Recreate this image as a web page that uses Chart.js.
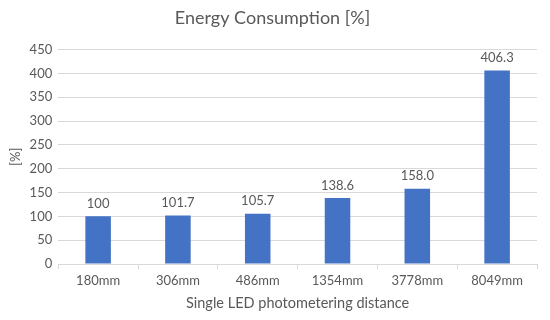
<!DOCTYPE html>
<html>
<head>
<meta charset="utf-8">
<script src="https://cdn.jsdelivr.net/npm/chart.js@4"></script>
<style>
  html, body { margin: 0; padding: 0; background: #fff; }
  #wrap { width: 550px; height: 320px; }
</style>
</head>
<body>
<div id="wrap"><canvas id="energy"></canvas></div>
<script>
var distances = ['180mm', '306mm', '486mm', '1354mm', '3778mm', '8049mm'];  // categories
var consumption = [100, 101.7, 105.7, 138.6, 158.0, 406.3];  // percent
var valueLabels = ['100', '101.7', '105.7', '138.6', '158.0', '406.3'];  // text above bars

var textColor = '#595959';
var gridColor = '#d9d9d9';
Chart.defaults.font.family = 'Lato, "Open Sans", sans-serif';

// draws the value over each bar
var barValues = {
    id: 'barValues',
    afterDatasetsDraw: function (chart) {
        var ctx = chart.ctx;
        var meta = chart.getDatasetMeta(0);
        ctx.save();
        ctx.fillStyle = textColor;
        ctx.font = '13px Lato, "Open Sans", sans-serif';
        ctx.textAlign = 'center';
        ctx.textBaseline = 'bottom';
        meta.data.forEach(function (bar, i) {
            ctx.fillText(valueLabels[i], bar.x, bar.y - 6);
        });
        ctx.restore();
    }
};

var ctx = document.getElementById('energy').getContext('2d');
var energyChart = new Chart(ctx, {
    type: 'bar',
    data: {
        labels: distances,
        datasets: [{
            data: consumption,
            backgroundColor: '#4472c4',
            categoryPercentage: 1,
            barPercentage: 0.32
        }]
    },
    options: {
        responsive: true,
        maintainAspectRatio: false,
        animation: false,
        layout: { padding: { left: 8, right: 13, top: 6, bottom: 4 } },
        plugins: {
            legend: { display: false },
            tooltip: { enabled: false },
            title: {
                display: true,
                text: 'Energy Consumption [%]',
                color: textColor,
                font: { size: 18, weight: 'normal' },
                padding: { top: 1, bottom: 21 }
            }
        },
        scales: {
            x: {
                grid: {
                    offset: true,
                    drawOnChartArea: false,
                    drawTicks: true,
                    tickLength: 5,
                    color: gridColor
                },
                border: { color: gridColor },
                ticks: { color: textColor, font: { size: 13 }, padding: 4 },
                title: {
                    display: true,
                    text: 'Single LED photometering distance',
                    color: textColor,
                    font: { size: 14.5 },
                    padding: { top: 2 }
                }
            },
            y: {
                min: 0,
                max: 450,
                ticks: { stepSize: 50, color: textColor, font: { size: 13 }, padding: 6 },
                grid: { color: gridColor, drawTicks: false },
                border: { display: false },
                title: {
                    display: true,
                    text: '[%]',
                    color: textColor,
                    font: { size: 13 },
                    padding: { top: 0, bottom: 0 }
                }
            }
        }
    },
    plugins: [barValues]
});
</script>
</body>
</html>
